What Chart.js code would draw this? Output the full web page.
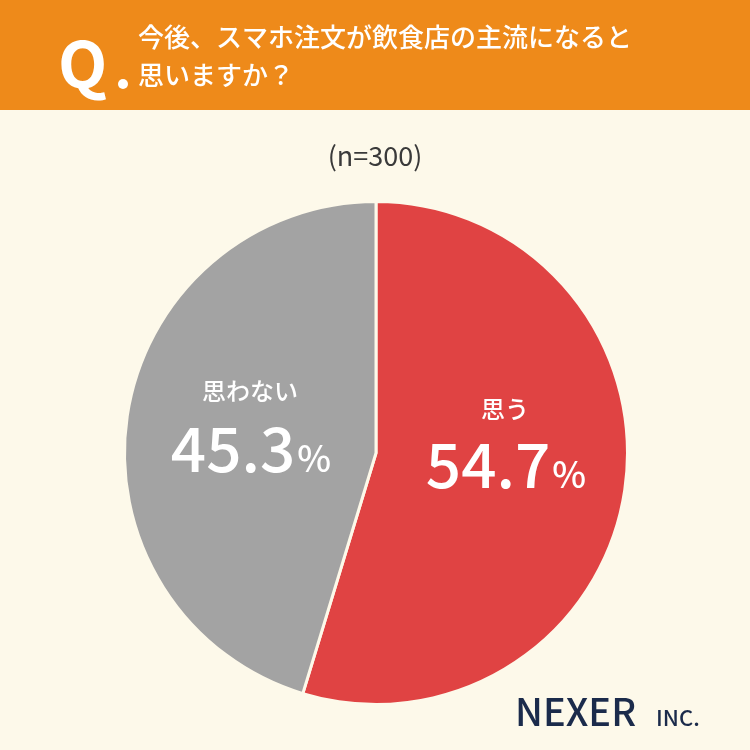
<!DOCTYPE html>
<html><head><meta charset="utf-8">
<script src="https://cdn.jsdelivr.net/npm/chart.js@4"></script>
<style>html,body{margin:0;padding:0;background:#FDF9EA}#w{width:750px;height:750px}</style>
</head><body><div id="w"><canvas id="c" width="750" height="750"></canvas></div>
<script>
const categories = ["思う", "思わない"];
const values = [54.7, 45.3];
const colors = ["#E04343", "#A3A3A3"];
const title1 = "今後、スマホ注文が飲食店の主流になると";
const title2 = "思いますか？";
const sampleNote = "(n=300)";
const F = '"Noto Sans CJK JP", "Noto Sans", sans-serif';

const deco = {
  id: 'deco',
  beforeDraw(chart) {
    const ctx = chart.ctx;
    ctx.save();
    ctx.fillStyle = '#FDF9EA'; ctx.fillRect(0,0,750,750);
    ctx.fillStyle = '#EE8A1A'; ctx.fillRect(0,0,750,110);
    ctx.fillStyle = '#fff';
    ctx.textBaseline = 'alphabetic';
    ctx.font = 'bold 64px ' + F; ctx.fillText('Q', 58, 88);
    ctx.beginPath(); ctx.arc(123, 84, 5, 0, Math.PI*2); ctx.fill();
    ctx.font = '500 26px ' + F;
    ctx.fillText(title1, 138, 47);
    ctx.fillText(title2, 138, 85);
    ctx.fillStyle = '#3a3a3a';
    ctx.textAlign = 'center';
    ctx.font = '27px ' + F; ctx.fillText(sampleNote, 375, 166);
    ctx.restore();
  },
  afterDraw(chart) {
    const ctx = chart.ctx;
    ctx.save();
    ctx.fillStyle = '#fff';
    ctx.textAlign = 'center';
    const pos = [[505, 418, 488], [250, 400, 472]];
    categories.forEach((c, i) => {
      const [x, y1, y2] = pos[i];
      ctx.font = '500 24px ' + F;
      ctx.fillText(c, x, y1);
      const num = values[i].toFixed(1);
      ctx.font = '500 62px ' + F;
      const wn = ctx.measureText(num).width;
      ctx.font = '500 36px ' + F;
      const wp = ctx.measureText('%').width;
      const sx = x - (wn + wp) / 2;
      ctx.textAlign = 'left';
      ctx.font = '500 62px ' + F; ctx.fillText(num, sx, y2);
      ctx.font = '500 36px ' + F; ctx.fillText('%', sx + wn + 2, y2);
      ctx.textAlign = 'center';
    });
    ctx.fillStyle = '#1B2B4B';
    ctx.textAlign = 'left';
    ctx.font = '500 38px ' + F; ctx.fillText('NEXER', 515, 726);
    ctx.font = '500 22px ' + F; ctx.fillText('INC.', 656, 726);
    ctx.restore();
  }
};

new Chart(document.getElementById('c'), {
  type: 'pie',
  data: { labels: categories, datasets: [{ data: values, backgroundColor: colors, borderColor: '#FDF9EA', borderWidth: 3 }] },
  options: {
    responsive: false, animation: false, devicePixelRatio: 1,
    layout: { padding: { top: 200, bottom: 44, left: 123, right: 121 } },
    plugins: { legend: { display: false }, tooltip: { enabled: false } }
  },
  plugins: [deco]
});
</script></body></html>
